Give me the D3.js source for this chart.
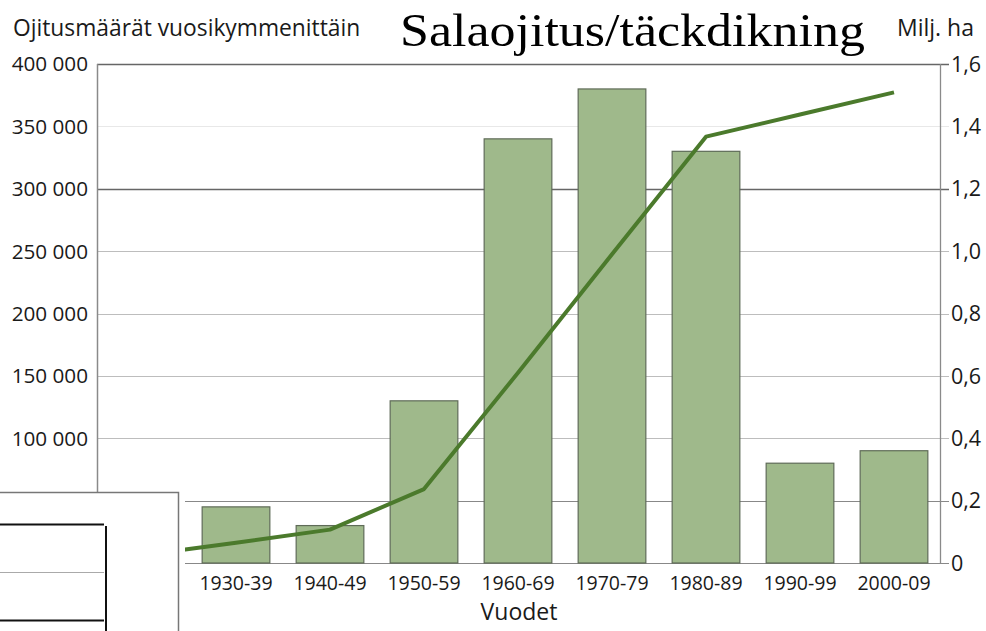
<!DOCTYPE html>
<html>
<head>
<meta charset="utf-8">
<script src="https://cdn.jsdelivr.net/npm/d3@7"></script>
<style>
  body { margin: 0; background: #fff; }
  svg { display: block; }
  .tick-label { font-family: "Open Sans", sans-serif; font-size: 19.5px; fill: #1a1a1a; }
  .axis-title { font-family: "Open Sans", sans-serif; font-size: 23px; fill: #1a1a1a; }
</style>
</head>
<body>
<div id="chart"></div>
<script>
// decades, first one sits under the white box in the corner
var decades = ["1920-29", "1930-39", "1940-49", "1950-59", "1960-69", "1970-79", "1980-89", "1990-99", "2000-09"];
// hectares drained per decade (first one not visible)
var drainedHa = [null, 45000, 30000, 130000, 340000, 380000, 330000, 80000, 90000];
// cumulative area, million ha
var totalMha = [0.025, 0.065, 0.107, 0.237, 0.61, 0.99, 1.367, 1.438, 1.509];
var leftTicks = [0, 50000, 100000, 150000, 200000, 250000, 300000, 350000, 400000];
var rightTicks = [0, 0.2, 0.4, 0.6, 0.8, 1.0, 1.2, 1.4, 1.6];

var W = 986, H = 631;
var plot = {left: 95, right: 941, top: 64, bottom: 563};

var fi = d3.formatLocale({decimal: ",", thousands: " ", grouping: [3], currency: ["", ""]});
var fmtLeft = fi.format(",d");
var fmtRight = function(d) { return d === 0 ? "0" : fi.format(".1f")(d); };

var svg = d3.select("#chart").append("svg")
    .attr("width", W)
    .attr("height", H);

var x = d3.scaleBand()
    .domain(decades)
    .range([plot.left, plot.right])
    .paddingInner(0.28)
    .paddingOuter(0.14);

var y = d3.scaleLinear().domain([0, 400000]).range([plot.bottom, plot.top]);
var y2 = d3.scaleLinear().domain([0, 1.6]).range([plot.bottom, plot.top]);

// gridlines, the two top-ish ones are darker like in the original
function gridColor(d) {
    if (d === 400000 || d === 300000) return "#666";
    if (d === 350000) return "#e8e8e8";
    if (d === 50000 || d === 0) return "#888";
    return "#bdbdbd";
}
svg.append("g").selectAll("line")
    .data(leftTicks)
    .enter().append("line")
    .attr("x1", plot.left + 2)
    .attr("x2", plot.right + 8)
    .attr("y1", function(d) { return Math.round(y(d)) + 0.5; })
    .attr("y2", function(d) { return Math.round(y(d)) + 0.5; })
    .attr("stroke", gridColor)
    .attr("stroke-width", function(d) { return d === 400000 || d === 300000 ? 1.6 : 1.2; });

// left and right frame
svg.append("line")
    .attr("x1", plot.left + 2.5).attr("x2", plot.left + 2.5)
    .attr("y1", plot.top).attr("y2", plot.bottom)
    .attr("stroke", "#8a8a8a").attr("stroke-width", 1.5);
svg.append("line")
    .attr("x1", plot.right - 0.5).attr("x2", plot.right - 0.5)
    .attr("y1", plot.top).attr("y2", plot.bottom)
    .attr("stroke", "#8a8a8a").attr("stroke-width", 1.3);

// bars
svg.append("g").selectAll("rect")
    .data(decades.map(function(d, i) { return {dec: d, v: drainedHa[i]}; }).filter(function(d) { return d.v != null; }))
    .enter().append("rect")
    .attr("x", function(d) { return x(d.dec); })
    .attr("y", function(d) { return y(d.v); })
    .attr("width", x.bandwidth())
    .attr("height", function(d) { return y(0) - y(d.v); })
    .attr("fill", "#9fb98b")
    .attr("stroke", "#5f6b58")
    .attr("stroke-width", 1.2);

// cumulative line
var line = d3.line()
    .x(function(d, i) { return x(decades[i]) + x.bandwidth() / 2; })
    .y(function(d) { return y2(d); });
svg.append("path")
    .datum(totalMha)
    .attr("d", line)
    .attr("fill", "none")
    .attr("stroke", "#4b7a2c")
    .attr("stroke-width", 4)
    .attr("stroke-linejoin", "round");

// left axis labels
svg.append("g").selectAll("text")
    .data(leftTicks)
    .enter().append("text")
    .attr("class", "tick-label")
    .attr("x", 88)
    .attr("y", function(d) { return y(d); })
    .attr("dy", "0.36em")
    .attr("text-anchor", "end")
    .style("font-size", "20.7px")
    .text(fmtLeft);

// right axis labels
svg.append("g").selectAll("text")
    .data(rightTicks)
    .enter().append("text")
    .attr("class", "tick-label")
    .attr("x", 951)
    .attr("y", function(d) { return y2(d); })
    .attr("dy", "0.36em")
    .style("font-size", "21.5px")
    .text(fmtRight);

// category labels
svg.append("g").selectAll("text")
    .data(decades)
    .enter().append("text")
    .attr("class", "tick-label")
    .attr("x", function(d) { return x(d) + x.bandwidth() / 2; })
    .attr("y", 590)
    .attr("text-anchor", "middle")
    .text(function(d) { return d; });

svg.append("text")
    .attr("class", "axis-title")
    .attr("x", 519)
    .attr("y", 620)
    .attr("text-anchor", "middle")
    .style("font-size", "23px")
    .text("Vuodet");

svg.append("text")
    .attr("class", "axis-title")
    .attr("x", 13)
    .attr("y", 36)
    .style("font-size", "22.8px")
    .text("Ojitusmäärät vuosikymmenittäin");

svg.append("text")
    .attr("class", "axis-title")
    .attr("x", 897)
    .attr("y", 36)
    .text("Milj. ha");

// slide title on top
svg.append("text")
    .attr("x", 400)
    .attr("y", 46)
    .attr("font-family", "Liberation Serif, serif")
    .attr("font-size", 47)
    .attr("fill", "#000")
    .attr("textLength", 465)
    .attr("lengthAdjust", "spacingAndGlyphs")
    .text("Salaojitus/täckdikning");

// white box pasted over the bottom-left corner
var box = svg.append("g");
box.append("rect")
    .attr("x", 0).attr("y", 492)
    .attr("width", 185).attr("height", H - 492)
    .attr("fill", "#fff");
box.append("path")
    .attr("d", "M0,492.5H178.5V" + H)
    .attr("fill", "none")
    .attr("stroke", "#777")
    .attr("stroke-width", 1.5);
box.append("path")
    .attr("d", "M0,524.5H104M106,526V" + H + "M0,620.5H104")
    .attr("fill", "none")
    .attr("stroke", "#111")
    .attr("stroke-width", 2);
box.append("line")
    .attr("x1", 0).attr("x2", 104)
    .attr("y1", 572.5).attr("y2", 572.5)
    .attr("stroke", "#aaa")
    .attr("stroke-width", 1);
</script>
</body>
</html>
